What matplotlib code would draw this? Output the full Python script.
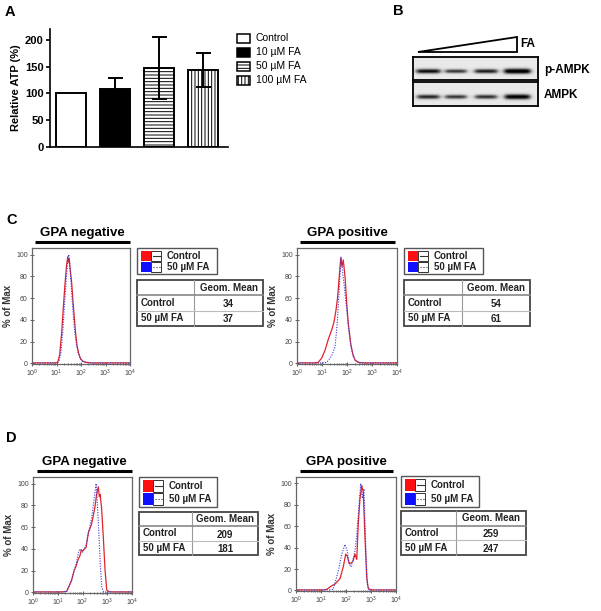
import numpy as np
import matplotlib.pyplot as plt
from matplotlib.patches import Rectangle, Polygon
from matplotlib.ticker import LogLocator, NullFormatter

plt.rcParams['font.family'] = ['Liberation Sans', 'DejaVu Sans']
plt.rcParams['hatch.linewidth'] = 0.7

# ---- data ----
# A: relative ATP
conds = ['Control', '10 µM FA', '50 µM FA', '100 µM FA']
atp = [100, 108, 147, 143]
atp_err = [0, 20, 58, 32]
bar_faces = ['white', 'black', 'white', 'white']
bar_hatch = [None, None, '-----', '|||||']

# B: western blot band intensity (relative)
p_ampk = [0.75, 0.5, 0.65, 1.0]
ampk = [0.6, 0.5, 0.55, 0.9]

# C/D: flow histograms, x in log10 fluorescence, y in % of max
groups = ['Control', '50 µM FA']

cneg_x_ctrl = [0, 0.95, 1.05, 1.13, 1.21, 1.28, 1.35, 1.41, 1.46, 1.49, 1.52, 1.55, 1.58,
               1.62, 1.67, 1.72, 1.78, 1.84, 1.92, 1.99, 2.08, 2.2, 2.4, 4]
cneg_y_ctrl = [0.5, 0.5, 1, 8, 28, 52, 74, 90, 98, 93, 96, 88, 82, 74, 58, 44, 28, 16, 8, 4,
               2, 1, 0.5, 0.5]
cneg_x_fa = [0, 1.02, 1.1, 1.18, 1.26, 1.33, 1.4, 1.45, 1.5, 1.53, 1.56, 1.6, 1.65, 1.7,
             1.75, 1.81, 1.88, 1.96, 2.06, 2.2, 2.5, 4]
cneg_y_fa = [0.5, 0.5, 2, 10, 30, 55, 78, 92, 100, 95, 85, 72, 55, 40, 28, 18, 10, 5, 2, 1,
             0.5, 0.5]

cpos_x_ctrl = [0, 0.7, 0.85, 0.99, 1.12, 1.25, 1.39, 1.48, 1.56, 1.63, 1.69, 1.75, 1.8, 1.85,
               1.92, 1.99, 2.05, 2.15, 2.23, 2.32, 2.45, 2.7, 4]
cpos_y_ctrl = [0.5, 0.5, 1, 5, 12, 22, 31, 38, 49, 62, 80, 97, 89, 95, 80, 55, 37, 18, 9, 3,
               1, 0.5, 0.5]
cpos_x_fa = [0, 1.0, 1.19, 1.39, 1.52, 1.61, 1.69, 1.76, 1.83, 1.89, 1.99, 2.07, 2.16, 2.25,
             2.39, 2.52, 4]
cpos_y_fa = [0.5, 0.5, 1, 7, 15, 37, 68, 98, 83, 71, 49, 31, 15, 6, 2, 0.5, 0.5]

dneg_x_ctrl = [0, 1.2, 1.36, 1.46, 1.56, 1.66, 1.74, 1.82, 1.9, 1.95, 2.01, 2.08, 2.14, 2.24,
               2.37, 2.5, 2.57, 2.64, 2.68, 2.71, 2.77, 2.84, 2.91, 2.98, 3.1, 4]
dneg_y_ctrl = [0.5, 0.5, 1, 6, 11, 20, 24, 30, 34, 39, 38, 40, 41, 55, 63, 78, 90, 97, 88, 90,
               78, 51, 21, 2, 0.5, 0.5]
dneg_x_fa = [0, 1.2, 1.36, 1.46, 1.56, 1.66, 1.74, 1.85, 1.92, 2.0, 2.14, 2.24, 2.37, 2.48,
             2.55, 2.6, 2.66, 2.72, 2.78, 2.85, 4]
dneg_y_fa = [0.5, 0.5, 1, 6, 12, 20, 26, 38, 40, 37, 43, 55, 68, 88, 100, 82, 55, 25, 5, 0.5,
             0.5]

dpos_x_ctrl = [0, 1.1, 1.23, 1.4, 1.56, 1.76, 1.89, 1.99, 2.05, 2.13, 2.23, 2.29, 2.36, 2.43,
               2.49, 2.56, 2.63, 2.69, 2.76, 2.83, 2.89, 3.0, 4]
dpos_y_ctrl = [0.5, 0.5, 1, 4, 6, 11, 22, 34, 32, 25, 26, 28, 34, 29, 62, 86, 98, 92, 49, 12,
               2, 0.5, 0.5]
dpos_x_fa = [0, 1.3, 1.49, 1.69, 1.83, 1.96, 2.05, 2.13, 2.2, 2.27, 2.36, 2.43, 2.52, 2.59,
             2.65, 2.72, 2.8, 2.85, 2.92, 4]
dpos_y_fa = [0.5, 0.5, 1, 18, 34, 43, 37, 25, 22, 28, 37, 52, 80, 100, 86, 95, 34, 6, 0.5, 0.5]

gm_c_neg = [34, 37]
gm_c_pos = [54, 61]
gm_d_neg = [209, 181]
gm_d_pos = [259, 247]

# ---- figure ----
W, H = 601, 611
fig = plt.figure(figsize=(W / 100, H / 100), dpi=100)


def px_axes(x0, y0, x1, y1):
    return fig.add_axes([x0 / W, 1 - y1 / H, (x1 - x0) / W, (y1 - y0) / H])


# overlay for labels, legends and tables (pixel coords)
ov = fig.add_axes([0, 0, 1, 1])
ov.set_xlim(0, W)
ov.set_ylim(H, 0)
ov.axis('off')

# panel letters
for lab, x, y in [('A', 5, 12), ('B', 393, 11), ('C', 6, 220), ('D', 6, 438)]:
    ov.text(x, y, lab, fontsize=10.5, fontweight='bold', va='center', ha='left')

# ---- A ----
ax = px_axes(50, 29, 228, 147)
xpos = np.arange(len(conds))
ax.bar(xpos, atp, width=0.68, color=bar_faces, edgecolor='black', linewidth=1.4,
       hatch=bar_hatch, zorder=2)
ax.errorbar(xpos[1:], atp[1:], yerr=atp_err[1:], fmt='none', ecolor='black',
            elinewidth=1.4, capsize=5.4, capthick=1.4, zorder=3)
ax.set_xlim(-0.476, 3.57)
ax.set_ylim(0, 220)
ax.set_yticks([0, 50, 100, 150, 200])
ax.set_xticks([])
for s in ['top', 'right']:
    ax.spines[s].set_visible(False)
for s in ['left', 'bottom']:
    ax.spines[s].set_linewidth(1.2)
ax.tick_params(axis='y', direction='out', length=3, width=1.2, labelsize=8, pad=1.5)
for t in ax.get_yticklabels():
    t.set_fontweight('bold')
ax.set_ylabel('Relative ATP (%)', fontsize=8, fontweight='bold', labelpad=3)

# A legend (drawn in overlay)
leg_y = [38, 52, 66, 80]
for yy, lab, fc, hh in zip(leg_y, conds, bar_faces, bar_hatch):
    ov.add_patch(Rectangle((237, yy - 4.5), 13, 9, facecolor=fc, edgecolor='black',
                           linewidth=1.1, hatch=hh))
    ov.text(256, yy, lab, fontsize=7.5, va='center', ha='left')

# ---- B ----
lane_c = [0.12, 0.34, 0.58, 0.83]


def blot_image(levels, nx=250, ny=48):
    xx = np.linspace(0, 1, nx)
    yy = np.linspace(0, 1, ny)
    img = np.full((ny, nx), 0.17)
    for c, lv in zip(lane_c, levels):
        half = 0.065 + 0.04 * lv
        px = 1 / (1 + np.exp(-(xx - (c - half)) / 0.012)) / (1 + np.exp((xx - (c + half)) / 0.012))
        py = np.exp(-((yy - 0.62) / (0.06 + 0.06 * lv)) ** 2)
        img += (0.45 + 0.55 * lv) * np.outer(py, px)
    return img


for (y0, y1), lv, name in [((57, 80), p_ampk, 'p-AMPK'), ((82, 106), ampk, 'AMPK')]:
    bx = px_axes(413, y0, 538, y1)
    bx.imshow(blot_image(lv), cmap='Greys', vmin=0, vmax=1.05, aspect='auto',
              extent=[0, 1, 1, 0], interpolation='bilinear')
    bx.set_xticks([])
    bx.set_yticks([])
    for s in bx.spines.values():
        s.set_linewidth(1.3)
    ov.text(544, (y0 + y1) / 2 + 1, name, fontsize=8.5, fontweight='bold', va='center', ha='left')

ov.add_patch(Polygon([(418, 52), (517, 37), (517, 52)], closed=True, facecolor='white',
                     edgecolor='black', linewidth=1.3))
ov.text(520, 44, 'FA', fontsize=8.5, fontweight='bold', va='center', ha='left')


# ---- C / D ----
def flow_panel(rect, xc, yc, xf, yf):
    fx = px_axes(*rect)
    fx.plot(10 ** np.array(xc), yc, color='#e3232b', lw=0.9)
    fx.plot(10 ** np.array(xf), yf, color='#3b3bd6', lw=0.8, ls=(0, (1, 1.3)))
    fx.set_xscale('log')
    fx.set_xlim(1, 1e4)
    fx.set_ylim(-0.5, 106)
    fx.set_yticks([0, 20, 40, 60, 80, 100])
    fx.xaxis.set_major_locator(LogLocator(base=10, numticks=6))
    fx.xaxis.set_minor_locator(LogLocator(base=10, subs=np.arange(2, 10), numticks=6))
    fx.xaxis.set_minor_formatter(NullFormatter())
    fx.tick_params(axis='both', which='major', direction='inout', length=3, width=0.6,
                   labelsize=5, colors='#444', pad=1.5)
    fx.tick_params(axis='x', which='minor', direction='inout', length=2, width=0.5,
                   colors='#444')
    for s in fx.spines.values():
        s.set_color('#666')
        s.set_linewidth(0.9)
    fx.set_ylabel('% of Max', fontsize=7, fontweight='bold', color='#333', labelpad=2.5)
    return fx


def title_bar(x0, x1, y, text):
    ov.text((x0 + x1) / 2, y, text, fontsize=9.5, fontweight='bold', ha='center', va='center')
    ov.plot([x0, x1], [y + 9, y + 9], color='black', lw=2.2, solid_capstyle='butt')


def flow_legend(x0, y0, x1, y1):
    ov.add_patch(Rectangle((x0, y0), x1 - x0, y1 - y0, facecolor='white', edgecolor='#555',
                           linewidth=1.0))
    h = y1 - y0
    for frac, lab, col, ls in [(0.3, groups[0], '#ff1010', '-'), (0.73, groups[1], '#1010ff', ':')]:
        yc = y0 + h * frac
        sq = h * 0.38
        ov.add_patch(Rectangle((x0 + 4, yc - sq / 2), 10, sq, facecolor=col, edgecolor='none'))
        ov.add_patch(Rectangle((x0 + 14, yc - sq / 2), 10, sq, facecolor='white',
                               edgecolor='#333', linewidth=0.7))
        ov.plot([x0 + 15.5, x0 + 22.5], [yc, yc], color='#333', lw=0.8, ls=ls)
        ov.text(x0 + 30, yc, lab, fontsize=7, fontweight='bold', va='center', ha='left',
                color='#222')


def gm_table(x0, y0, x1, y1, xdiv, vals):
    rh = (y1 - y0) / 3
    ov.add_patch(Rectangle((x0, y0), x1 - x0, y1 - y0, facecolor='white', edgecolor='#444',
                           linewidth=1.3))
    ov.plot([xdiv, xdiv], [y0, y1], color='#999', lw=0.8)
    ov.plot([x0, x1], [y0 + rh, y0 + rh], color='#888', lw=1.2)
    ov.plot([x0, x1], [y0 + 2 * rh, y0 + 2 * rh], color='#bbb', lw=0.8)
    ov.text((xdiv + x1) / 2, y0 + rh / 2, 'Geom. Mean', fontsize=7, fontweight='bold',
            ha='center', va='center', color='#222')
    for i, (g, v) in enumerate(zip(groups, vals)):
        yc = y0 + rh * (i + 1.5)
        ov.text(x0 + 4, yc, g, fontsize=7, fontweight='bold', ha='left', va='center',
                color='#222')
        ov.text((xdiv + x1) / 2, yc + 1, str(v), fontsize=7, fontweight='bold',
                ha='center', va='center', color='#222')


# C
title_bar(35, 130, 233, 'GPA negative')
flow_panel((32, 248, 130, 364), cneg_x_ctrl, cneg_y_ctrl, cneg_x_fa, cneg_y_fa)
flow_legend(137, 248, 217, 274)
gm_table(137, 280, 263, 326, 194, gm_c_neg)

title_bar(300, 395, 233, 'GPA positive')
flow_panel((297, 248, 397, 364), cpos_x_ctrl, cpos_y_ctrl, cpos_x_fa, cpos_y_fa)
flow_legend(404, 248, 483, 274)
gm_table(404, 280, 530, 326, 462, gm_c_pos)

# D
title_bar(37, 132, 462, 'GPA negative')
flow_panel((33, 477, 132, 593), dneg_x_ctrl, dneg_y_ctrl, dneg_x_fa, dneg_y_fa)
flow_legend(139, 477, 217, 507)
gm_table(139, 512, 258, 555, 192, gm_d_neg)

title_bar(300, 393, 462, 'GPA positive')
flow_panel((296, 477, 396, 591), dpos_x_ctrl, dpos_y_ctrl, dpos_x_fa, dpos_y_fa)
flow_legend(401, 476, 479, 507)
gm_table(401, 511, 526, 555, 456, gm_d_pos)

fig.savefig('out.png', dpi=100)
